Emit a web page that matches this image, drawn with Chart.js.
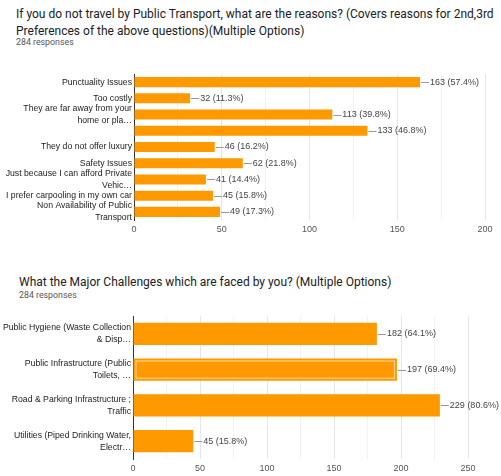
<!DOCTYPE html>
<html>
<head>
<meta charset="utf-8">
<script src="https://cdn.jsdelivr.net/npm/chart.js@4"></script>
<style>
  body{margin:0;width:501px;height:476px;background:#fff;position:relative;overflow:hidden;font-family:Roboto,Arial,sans-serif;}
  .title{position:absolute;color:#202124;font-size:12px;line-height:17px;white-space:nowrap;}
  .resp{position:absolute;color:#555;font-size:8.8px;white-space:nowrap;}
  canvas{position:absolute;left:0;}
</style>
</head>
<body>
<div class="title" style="left:16px;top:6px;">If you do not travel by Public Transport, what are the reasons? (Covers reasons for 2nd,3rd<br>Preferences of the above questions)(Multiple Options)</div>
<div class="resp" style="left:16px;top:37px;">284 responses</div>
<canvas id="reasonsChart" width="501" height="180" style="top:60px"></canvas>

<div class="title" style="left:19px;top:274px;">What the Major Challenges which are faced by you? (Multiple Options)</div>
<div class="resp" style="left:19px;top:290px;">284 responses</div>
<canvas id="challengesChart" width="501" height="176" style="top:300px"></canvas>

<script>
const reasonLabels = [
  "Punctuality Issues",
  "Too costly",
  ["They are far away from your", "home or pla\u2026"],
  "",
  "They do not offer luxury",
  "Safety Issues",
  ["Just because I can afford Private", "Vehic\u2026"],
  "I prefer carpooling in my own car",
  ["Non Availability of Public", "Transport"]
];
const reasonCounts = [163, 32, 113, 133, 46, 62, 41, 45, 49];
const reasonPcts = ["57.4%", "11.3%", "39.8%", "46.8%", "16.2%", "21.8%", "14.4%", "15.8%", "17.3%"];

const challengeLabels = [
  ["Public Hygiene (Waste Collection", "& Disp\u2026"],
  ["Public Infrastructure (Public", "Toilets, \u2026"],
  ["Road & Parking Infrastructure ;", "Traffic"],
  ["Utilities (Piped Drinking Water,", "Electr\u2026"]
];
const challengeCounts = [182, 197, 229, 45];
const challengePcts = ["64.1%", "69.4%", "80.6%", "15.8%"];

const ORANGE = "#ff9900";
const FONT = "'Liberation Sans', Arial, sans-serif";

// line + "n (pct)" after each bar, google forms style
function valueLabels(pcts, highlight){
  return {
    id: "valueLabels",
    afterDatasetsDraw(chart){
      const ctx = chart.ctx;
      const meta = chart.getDatasetMeta(0);
      const vals = chart.data.datasets[0].data;
      ctx.save();
      meta.data.forEach((bar, i) => {
        if(i === highlight){
          const p = bar.getProps(["x","y","base","height"], true);
          ctx.strokeStyle = "#ffd08a"; ctx.lineWidth = 1.2;
          ctx.strokeRect(p.base + 2.5, p.y - p.height/2 + 2.5, p.x - p.base - 5, p.height - 5);
        }
        ctx.strokeStyle = "#999"; ctx.lineWidth = 1;
        ctx.beginPath(); ctx.moveTo(bar.x + 1, Math.round(bar.y) + 0.5); ctx.lineTo(bar.x + 9, Math.round(bar.y) + 0.5); ctx.stroke();
        ctx.fillStyle = "#444"; ctx.font = "9px " + FONT;
        ctx.textAlign = "left"; ctx.textBaseline = "middle";
        ctx.fillText(vals[i] + " (" + pcts[i] + ")", bar.x + 10, bar.y);
      });
      ctx.restore();
    }
  };
}

function makeChart(id, labels, counts, pcts, opts){
  return new Chart(document.getElementById(id), {
    type: "bar",
    data: { labels: labels, datasets: [{ data: counts, backgroundColor: ORANGE, borderWidth: 0, barPercentage: 0.62, categoryPercentage: 1 }] },
    options: {
      indexAxis: "y", responsive: false, animation: false,
      layout: { padding: { top: opts.padTop, right: opts.padRight, left: 0, bottom: 0 } },
      plugins: { legend: { display: false }, tooltip: { enabled: false } },
      scales: {
        x: {
          min: 0, max: opts.max,
          afterFit: s => { s.height = opts.xHeight; },
          border: { display: false },
          grid: { drawTicks: false, color: c => c.tick.value === 0 ? "#333" : (c.tick.value % 50 === 0 ? "#e6e6e6" : "#f2f2f2") },
          ticks: { stepSize: 25, padding: 4, color: "#555", font: { size: 9, family: FONT }, maxRotation: 0, autoSkip: false,
                   callback: v => v % 50 === 0 ? v : "" }
        },
        y: {
          afterFit: s => { s.width = opts.yWidth; },
          border: { display: true, color: "#333", width: 1 },
          grid: { display: false, drawTicks: false },
          ticks: { autoSkip: false, padding: 2, color: "#222", font: { size: 8.7, family: FONT, lineHeight: 1.38 } }
        }
      }
    },
    plugins: [valueLabels(pcts, opts.highlight)]
  });
}

makeChart("reasonsChart", reasonLabels, reasonCounts, reasonPcts,
  { max: 200, padTop: 10, padRight: 16, xHeight: 20, yWidth: 134, highlight: -1 });
makeChart("challengesChart", challengeLabels, challengeCounts, challengePcts,
  { max: 250, padTop: 16, padRight: 33, xHeight: 17, yWidth: 133, highlight: 1 });
</script>
</body>
</html>
